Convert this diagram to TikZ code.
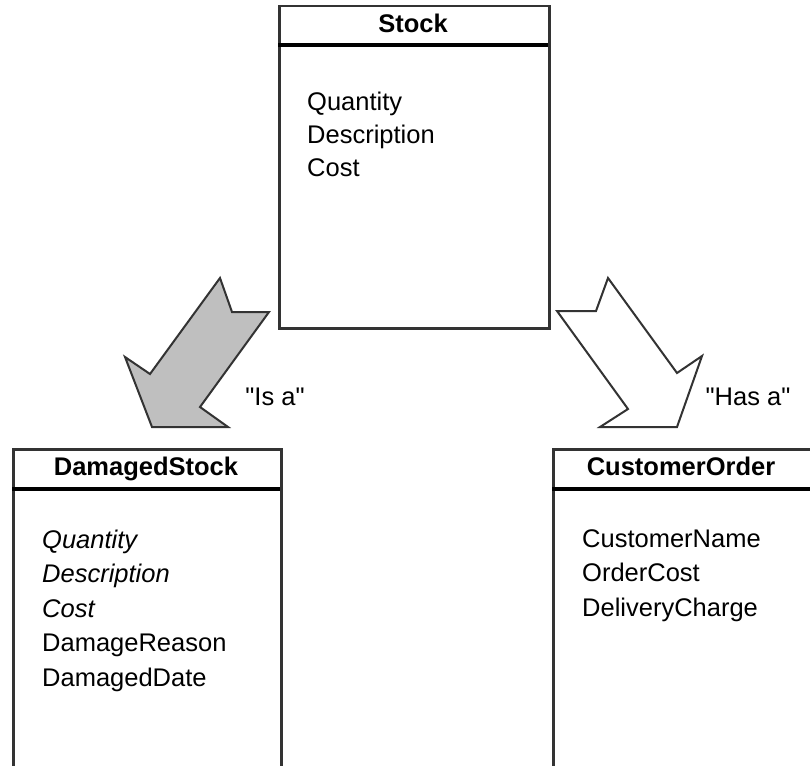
\documentclass[tikz,border=0pt]{standalone}
\usepackage{fontspec}
\setmainfont{Liberation Sans}
\usetikzlibrary{positioning}

\tikzset{
  classbox/.style={draw=black!80, line width=2.5pt, fill=white, rectangle, anchor=north west, inner sep=0pt},
  headline/.style={black, line width=3.5pt},
  classname/.style={font=\fontsize{25.5}{30}\selectfont\bfseries, anchor=base, inner sep=0pt},
  attrlist/.style={font=\fontsize{25.5}{34.5}\selectfont, align=left, anchor=base west, inner sep=0pt},
  blockarrow/.style={draw=black!80, line width=2pt, line join=miter},
  relname/.style={font=\fontsize{25.5}{30}\selectfont, anchor=base, inner sep=0pt}
}

\begin{document}
\begin{tikzpicture}[x=1pt, y=-1pt]
	\clip (0,0) rectangle (810,765);
	\fill[white] (0,0) rectangle (810,765);

	% Clase Stock ---------------------------------------------------------------
	\node[classbox, minimum width=270pt, minimum height=322pt] (stock) at (278,5) {};
	\draw[headline] (278,45) -- (548,45); % linea bajo el nombre
	\node[classname] (stockname) at (413,33) {Stock};
	% base = linea base de la ultima fila
	\node[attrlist, font=\fontsize{25.5}{33}\selectfont] (stockattr) at (307,176) {Quantity\\Description\\Cost};

	% Clase DamagedStock ----------------------------------------------------------
	\node[classbox, minimum width=268pt, minimum height=340pt] (damaged) at (12,448) {};
	\draw[headline] (12,489) -- (280,489); % linea bajo el nombre
	\node[classname] (damagedname) at (146,475) {DamagedStock};
	\node[attrlist] (damagedattr) at (42,686) {\itshape Quantity\\\itshape Description\\\itshape Cost\\DamageReason\\DamagedDate};

	% Clase CustomerOrder ---------------------------------------------------------
	\node[classbox, minimum width=280pt, minimum height=340pt] (order) at (552,448) {};
	\draw[headline] (552,489) -- (820,489); % linea bajo el nombre
	\node[classname] (ordername) at (681,475) {CustomerOrder};
	\node[attrlist] (orderattr) at (582,616) {CustomerName\\OrderCost\\DeliveryCharge};

	% Flecha "Is a" (herencia) ----------------------------------------------------
	\draw[blockarrow, fill=black!25] (220,278) -- (232,312) -- (269,312) -- (200,407)
		-- (228,427) -- (152,427) -- (125,357) -- (150,374) -- cycle;
	\node[relname] (isa) at (275,405) {\textquotedbl Is a\textquotedbl};

	% Flecha "Has a" (composicion) ------------------------------------------------
	\draw[blockarrow, fill=white] (608,278) -- (596,311) -- (557,311) -- (628,409)
		-- (600,427) -- (677,427) -- (702,356) -- (677,373) -- cycle;
	\node[relname] (hasa) at (748,405) {\textquotedbl Has a\textquotedbl};
\end{tikzpicture}
\end{document}
